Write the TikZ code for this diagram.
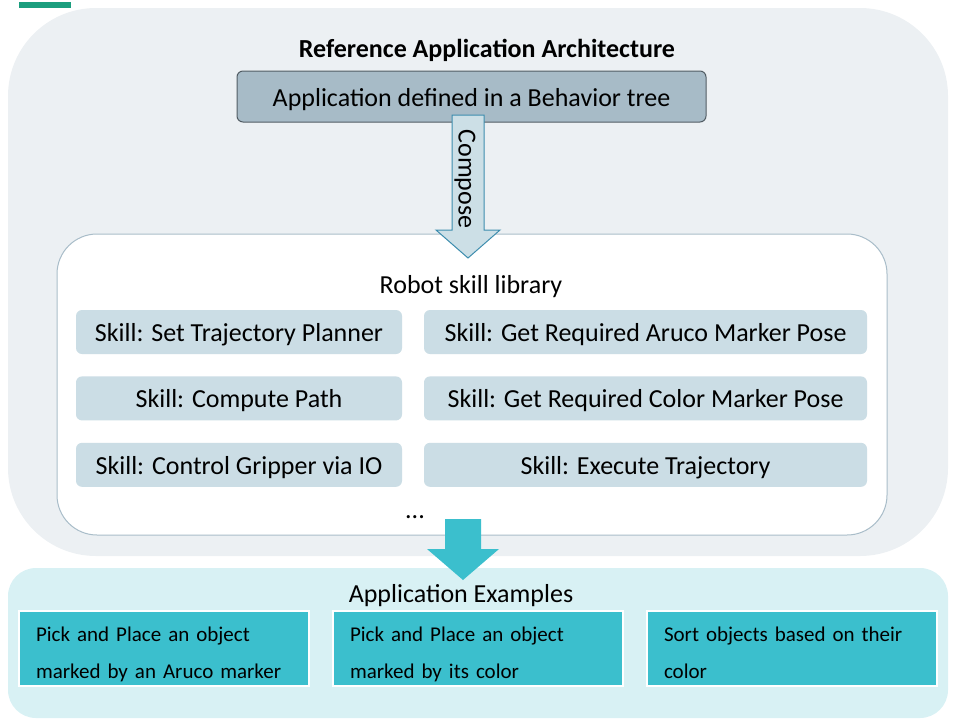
\documentclass[tikz,border=0pt]{standalone}
\usepackage{fontspec}
\setmainfont{Carlito}
\usetikzlibrary{positioning}

\definecolor{bargreen}{HTML}{1B9E7E}
\definecolor{archgray}{HTML}{ECF0F3}
\definecolor{treeblue}{HTML}{A7BBC7}
\definecolor{treeline}{HTML}{525D64}
\definecolor{composefill}{HTML}{CCDFE6}
\definecolor{composeline}{HTML}{3D8DAE}
\definecolor{libline}{HTML}{A9BDC9}
\definecolor{skillblue}{HTML}{CBDDE5}
\definecolor{examplebg}{HTML}{D8F1F4}
\definecolor{exampleteal}{HTML}{3BBFCD}

\begin{document}
\begin{tikzpicture}[
  x=1pt, y=-1pt,
  node distance=22pt and 22pt,
  every node/.style={font=\fontsize{26}{30}\selectfont, inner sep=0pt, text height=20pt, text depth=1pt},
  container/.style={rounded corners=#1, minimum width=940pt},
  skill/.style={fill=skillblue, rounded corners=6pt, minimum height=44pt},
  example/.style={fill=exampleteal, draw=white, line width=2pt, minimum width=290pt, minimum height=72pt,
    text height={}, text depth={}, text width=256pt, align=left, font=\fontsize{21}{37}\selectfont,
    execute at begin node={\rule{0pt}{31pt}}, execute at end node={\rule[-7pt]{0pt}{7pt}}}
]
\useasboundingbox (0,0) rectangle (957,720);

% containers
\fill[bargreen] (19,2) rectangle (71,8);
\node[container=88pt, fill=archgray, minimum height=548pt] (arch) at (478,282) {};
\node[container=28pt, fill=examplebg, minimum height=150pt] (examples) at (478,643) {};

% top part
\node[font=\fontsize{26}{30}\selectfont\bfseries] (title) at (487,48) {Reference Application Architecture};
\node[fill=treeblue, draw=treeline, line width=1pt, rounded corners=6pt, minimum width=469pt, minimum height=51pt]
  (tree) at (471.5,96.5) {Application defined in a Behavior tree};

% skill library
\node[fill=white, draw=libline, line width=1pt, rounded corners=40pt, minimum width=830pt, minimum height=301pt]
  (library) at (472,384.5) {};
\node (libtitle) at (471,284) {Robot skill library};

\node[skill, minimum width=326pt] (plan) at (239,332) {Skill: Set Trajectory Planner};
\node[skill, minimum width=326pt, below=of plan] (path) {Skill: Compute Path};
\node[skill, minimum width=326pt, below=of path] (gripper) {Skill: Control Gripper via IO};
\node[skill, minimum width=443pt] (aruco) at (645.5,332) {Skill: Get Required Aruco Marker Pose};
\node[skill, minimum width=443pt, below=of aruco] (color) {Skill: Get Required Color Marker Pose};
\node[skill, minimum width=443pt, below=of color] (execute) {Skill: Execute Trajectory};
\node (more) at (415,509) {...};

% compose arrow
\filldraw[fill=composefill, draw=composeline, line width=1pt]
  (452,115) -- (484,115) -- (484,230) -- (500,230) -- (468,258) -- (436,230) -- (452,230) -- cycle;
\node[rotate=-90] (compose) at (468,179) {Compose};

% application examples
\node (extitle) at (461,593) {Application Examples};
\node[example] (pickaruco) at (164,648) {Pick and Place an object\\marked by an Aruco marker};
\node[example] (pickcolor) at (478,648) {Pick and Place an object\\marked by its color};
\node[example] (sort) at (792,648) {Sort objects based on their\\color};

% arrow to examples
\fill[exampleteal] (445,519) -- (481,519) -- (481,549) -- (499,549) -- (463,580) -- (427,549) -- (445,549) -- cycle;

\end{tikzpicture}
\end{document}
